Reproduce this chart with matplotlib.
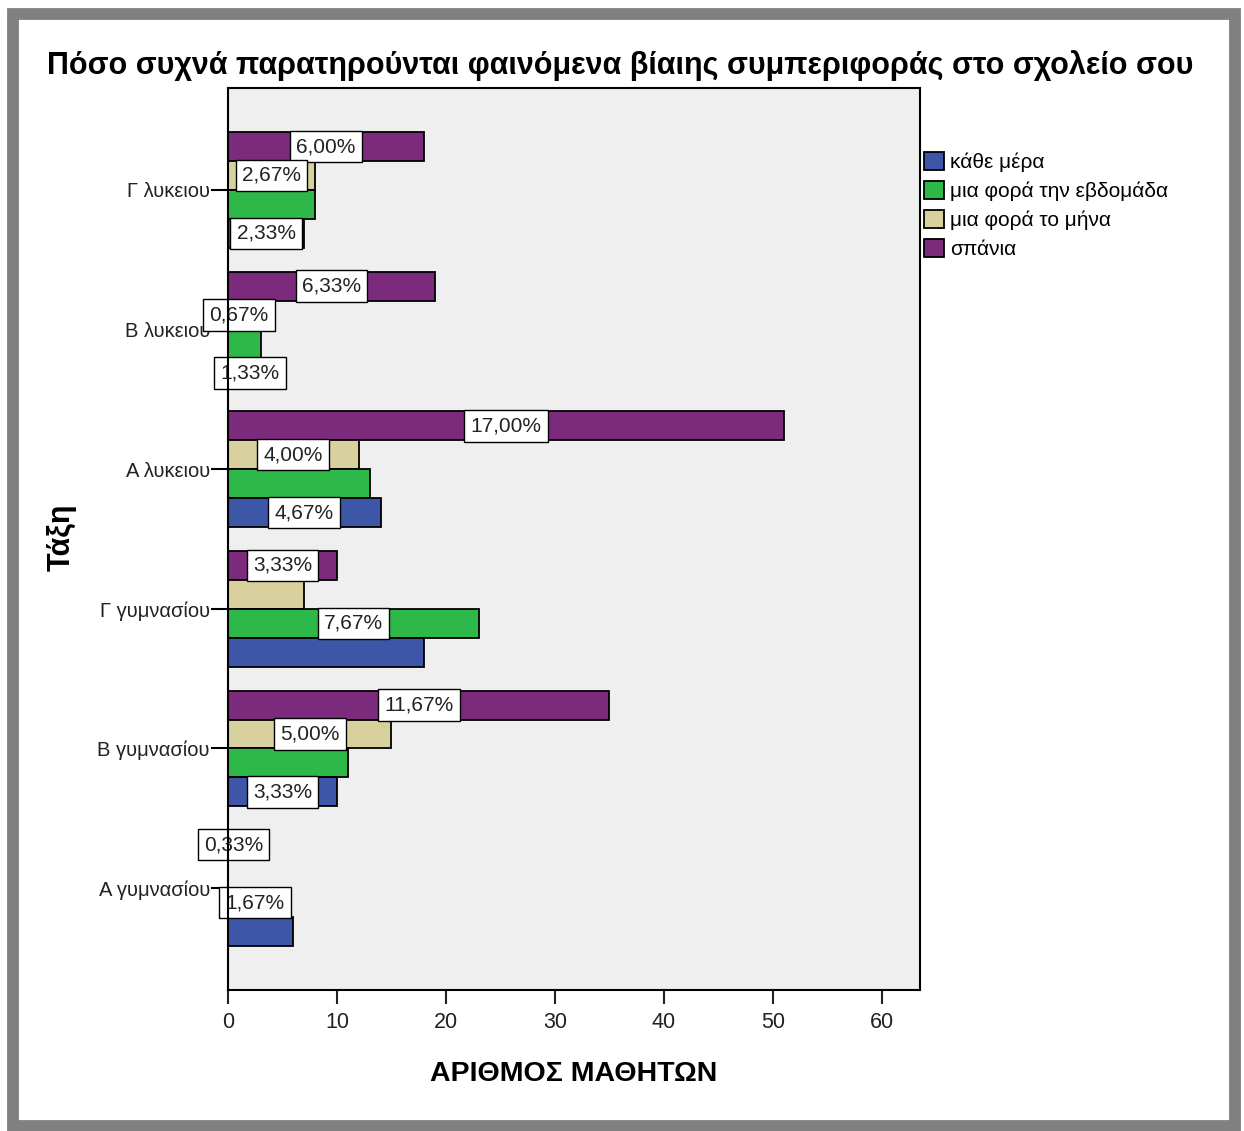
import matplotlib
matplotlib.use("Agg")
import matplotlib.pyplot as plt
from matplotlib.patches import Rectangle, Patch
import numpy as np

plt.rcParams['font.family'] = ['Liberation Sans', 'DejaVu Sans']

# categories, top to bottom
classes = ["Γ λυκειου", "Β λυκειου", "Α λυκειου",
           "Γ γυμνασίου", "Β γυμνασίου", "Α γυμνασίου"]

# number of students per answer
spania = [18, 19, 51, 10, 35, 1]
mina = [8, 2, 12, 7, 15, 0]
evdomada = [8, 3, 13, 23, 11, 5]
kathe_mera = [7, 4, 14, 18, 10, 6]

# percentage labels shown on the bars (None = not shown)
lbl_spania = ["6,00%", "6,33%", "17,00%", "3,33%", "11,67%", "0,33%"]
lbl_mina = ["2,67%", "0,67%", "4,00%", None, "5,00%", None]
lbl_evdomada = [None, None, None, "7,67%", None, "1,67%"]
lbl_kathe_mera = ["2,33%", "1,33%", "4,67%", None, "3,33%", None]

legend_names = ["κάθε μέρα", "μια φορά την εβδομάδα", "μια φορά το μήνα", "σπάνια"]
colors = {"kathe": "#3D56A8", "evd": "#2EB84A", "mina": "#D8D19D", "span": "#7B2A7C"}

fig = plt.figure(figsize=(12.44, 11.31), dpi=100)
ax = fig.add_axes([228 / 1244, 1 - 990 / 1131, 692 / 1244, 902 / 1131])
ax.set_facecolor("#EFEFEF")

y = np.arange(len(classes))
d = 0.207
series = [
    (spania, lbl_spania, colors["span"], -1.5),
    (mina, lbl_mina, colors["mina"], -0.5),
    (evdomada, lbl_evdomada, colors["evd"], 0.5),
    (kathe_mera, lbl_kathe_mera, colors["kathe"], 1.5),
]
for vals, lbls, col, off in series:
    ypos = y + off * d
    ax.barh(ypos, vals, height=d, color=col, edgecolor="black", linewidth=1.3, zorder=2)
    for yy, v, t in zip(ypos, vals, lbls):
        if t is None:
            continue
        ax.text(v / 2, yy, t, ha="center", va="center", fontsize=15, color="#222222",
                zorder=3,
                bbox=dict(boxstyle="square,pad=0.3", fc="white", ec="black", lw=1))

ax.set_xlim(0, 63.5)
ax.set_ylim(5.73, -0.73)
ax.set_yticks(y)
ax.set_yticklabels(classes, fontsize=14.5, color="#222222")
ax.set_xticks([0, 10, 20, 30, 40, 50, 60])
ax.tick_params(axis="x", labelsize=15.5, length=10, width=1.5, colors="#222222", pad=6)
ax.tick_params(axis="y", length=12, width=1.5, pad=1)
for s in ax.spines.values():
    s.set_linewidth(1.5)
    s.set_zorder(4)

ax.set_xlabel("ΑΡΙΘΜΟΣ ΜΑΘΗΤΩΝ", fontsize=20.5, fontweight="bold", labelpad=20)
fig.text(62 / 1244, 1 - 537 / 1131, "Τάξη", rotation=90, fontsize=22,
         fontweight="bold", ha="center", va="center")

fig.text(620 / 1244, 1 - 66 / 1131,
         "Πόσο συχνά παρατηρούνται φαινόμενα βίαιης συμπεριφοράς στο σχολείο σου",
         fontsize=22, fontweight="bold", ha="center", va="center")

handles = [Patch(facecolor=colors[k], edgecolor="black", linewidth=1.3)
           for k in ["kathe", "evd", "mina", "span"]]
fig.legend(handles, legend_names, loc="upper left",
           bbox_to_anchor=(920 / 1244, 1 - 148 / 1131), frameon=False,
           fontsize=15, handlelength=0.95, handleheight=0.95, handletextpad=0.3,
           labelspacing=0.42, borderaxespad=0, borderpad=0.2)

# gray outer frame
fig.patches.append(Rectangle((13 / 1244, 1 - 1126 / 1131), 1222 / 1244, 1112 / 1131,
                             transform=fig.transFigure, fill=False,
                             edgecolor="#808080", linewidth=8.5))

fig.savefig("out.png", dpi=100, facecolor="white")
